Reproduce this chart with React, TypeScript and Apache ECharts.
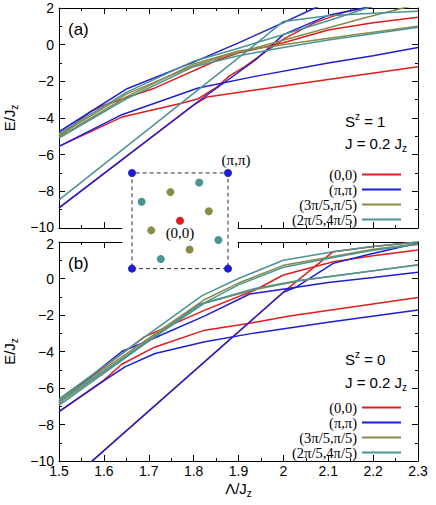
import { useEffect, useRef } from 'react';
import * as echarts from 'echarts';

// ---- axis ranges / ticks ----
const X_MIN = 1.5;
const X_MAX = 2.3;
const X_STEP = 0.1;
const Y_MIN = -10;
const Y_MAX = 2;
const Y_STEP = 2;

// ---- legend names (momenta) ----
const momenta = ['(0,0)', '(π,π)', '(3π/5,π/5)', '(2π/5,4π/5)'];

// ---- panel (a): S^z = 1 ----
const aRed1 = [[1.5, -5.0], [1.57, -3.65], [1.6, -3.3], [1.714, -2.36], [1.855, -0.82], [1.9, -0.45], [2.0, 0.1], [2.1, 0.8], [2.2, 1.2], [2.3, 1.5]];
const aRed2 = [[1.5, -5.55], [1.64, -3.95], [1.773, -3.2], [1.81, -2.95], [1.85, -2.35], [1.88, -1.7], [1.914, -1.2], [2.0, 0.3], [2.07, 1.2], [2.14, 1.8], [2.2, 2.1]];
const aRed3 = [[1.5, -8.9], [1.8, -3.3], [1.83, -2.85], [1.937, -2.47], [2.1, -1.9], [2.3, -1.2]];
const aBlue1 = [[1.5, -4.75], [1.65, -2.42], [1.8, -0.95], [1.9, 0.1], [2.0, 1.2], [2.07, 2.0], [2.1, 2.3]];
const aBlue2 = [[1.5, -5.55], [1.64, -3.82], [1.81, -2.36], [1.937, -1.73], [2.1, -1.0], [2.2, -0.6], [2.3, -0.15]];
const aBlue3 = [[1.5, -8.9], [1.81, -3.1], [1.937, -0.85], [2.0, 0.55], [2.1, 1.6], [2.2, 2.1]];
const aOlive1 = [[1.5, -4.95], [1.65, -2.7], [1.8, -1.15], [1.881, -0.55], [2.03, 0.45], [2.18, 1.45], [2.26, 1.96], [2.3, 2.2]];
const aOlive2 = [[1.5, -5.05], [1.65, -2.85], [1.8, -1.05], [1.9, -0.35], [2.0, 0.0], [2.1, 0.35], [2.2, 0.68], [2.3, 1.0]];
const aTeal1 = [[1.5, -8.47], [1.914, -0.45], [2.0, 1.27], [2.1, 1.58], [2.2, 1.72], [2.3, 1.82]];
const aTeal2 = [[1.5, -4.85], [1.65, -2.6], [1.8, -0.9], [1.9, -0.2], [2.0, 0.55], [2.1, 1.3], [2.18, 1.95], [2.2, 2.1]];
const aTeal3 = [[1.5, -5.1], [1.65, -2.95], [1.8, -1.2], [1.9, -0.6], [2.0, -0.15], [2.1, 0.25], [2.2, 0.6], [2.3, 0.95]];

// ---- panel (b): S^z = 0 ----
const bRed1 = [[1.5, -6.7], [1.69, -3.2], [1.825, -1.73], [1.937, -0.63], [2.0, 0.19], [2.111, 0.92], [2.2, 1.25], [2.3, 1.56]];
const bRed2 = [[1.5, -7.3], [1.6, -5.57], [1.64, -4.7], [1.714, -3.75], [1.825, -2.83], [1.922, -2.46], [2.014, -2.05], [2.3, -1.04]];
const bRed3 = [[1.56, -10.3], [2.0, -0.75], [2.111, 1.47], [2.2, 1.75], [2.3, 2.0]];
const bBlue1 = [[1.5, -6.75], [1.64, -4.0], [1.7, -3.4], [1.825, -2.05], [1.925, -0.85], [2.014, -0.54], [2.1, -0.22], [2.2, 0.05], [2.3, 0.34]];
const bBlue2 = [[1.5, -7.3], [1.602, -5.57], [1.647, -4.84], [1.714, -4.11], [1.825, -3.47], [1.937, -2.98], [2.1, -2.4], [2.3, -1.73]];
const bBlue3 = [[1.56, -10.3], [2.0, -0.75], [2.03, -0.45], [2.111, 0.83], [2.185, 1.29], [2.3, 1.95]];
const bOlive1 = [[1.5, -6.68], [1.825, -1.15], [1.9, -0.25], [2.0, 0.72], [2.111, 1.2], [2.2, 1.6], [2.3, 1.9]];
const bOlive2 = [[1.5, -6.85], [1.81, -1.45], [1.937, -0.6], [2.037, -0.12], [2.3, 0.76]];
const bTeal1 = [[1.5, -6.6], [1.818, -0.95], [1.9, 0.0], [2.0, 1.0], [2.111, 1.47], [2.2, 1.75], [2.3, 2.0]];
const bTeal2 = [[1.5, -6.75], [1.83, -1.25], [1.9, -0.35], [2.0, 0.62], [2.111, 1.15], [2.2, 1.55], [2.3, 1.86]];
const bTeal3 = [[1.5, -6.95], [1.815, -1.4], [1.937, -0.55], [2.037, -0.1], [2.3, 0.74]];

// ---- inset: Brillouin-zone momenta (units of π) ----
const insetSquare = [[-1, -1], [1, -1], [1, 1], [-1, 1], [-1, -1]];
const insetRed = [[0, 0]];
const insetBlue = [[-1, -1], [1, -1], [1, 1], [-1, 1]];
const insetOlive = [[-0.2, 0.6], [0.6, 0.2], [-0.6, -0.2], [0.2, -0.6]];
const insetTeal = [[0.4, 0.8], [-0.8, 0.4], [0.8, -0.4], [-0.4, -0.8]];

const COLORS = ['#e01e1e', '#1e1ed4', '#8a8a48', '#4a9494'];
const SANS = '"Liberation Sans", Arial, Helvetica, sans-serif';
const SERIF = '"Liberation Serif", "Times New Roman", serif';

const panels = [
  [[aRed1, aRed2, aRed3], [aBlue1, aBlue2, aBlue3], [aOlive1, aOlive2], [aTeal1, aTeal2, aTeal3]],
  [[bRed1, bRed2, bRed3], [bBlue1, bBlue2, bBlue3], [bOlive1, bOlive2], [bTeal1, bTeal2, bTeal3]],
];

const fmtX = (v: number) => String(Math.round(v * 10) / 10);
const minus = (v: number) => (v < 0 ? '\u2212' + Math.abs(v) : String(v));
// panel (a): lift the bottom label slightly; panel (b): drop the top label slightly
const fmtYa = (v: number) => (v === Y_MIN ? '{lo|' + minus(v) + '}' : minus(v));
const fmtYb = (v: number) => (v === Y_MAX ? '{hi|' + minus(v) + '}' : minus(v));
const labelRich = {
  lo: { fontFamily: SANS, fontSize: 14, color: '#000', padding: [0, 0, 3, 0] },
  hi: { fontFamily: SANS, fontSize: 14, color: '#000', padding: [3, 0, 0, 0] },
};

const richBase = {
  n: { fontFamily: SANS, fontSize: 15, lineHeight: 20, color: '#000' },
  sup: { fontFamily: SANS, fontSize: 10, lineHeight: 10, verticalAlign: 'top', color: '#000' },
  sub: { fontFamily: SANS, fontSize: 10, lineHeight: 10, verticalAlign: 'bottom', color: '#000' },
};

function xAxisFor(grid: number, position: string, showLabel: boolean, name?: string) {
  return {
    type: 'value',
    gridIndex: grid,
    position,
    min: X_MIN,
    max: X_MAX,
    interval: X_STEP,
    name: name || '',
    nameLocation: 'middle',
    nameGap: 17,
    nameTextStyle: { rich: richBase },
    axisLine: { show: true, onZero: false, lineStyle: { color: '#000', width: 1 } },
    axisTick: { show: true, inside: true, length: 6, lineStyle: { color: '#000', width: 1 } },
    minorTick: { show: true, splitNumber: 2, length: 3, lineStyle: { color: '#000', width: 1 } },
    axisLabel: {
      show: showLabel,
      margin: 3,
      formatter: fmtX,
      fontFamily: SANS,
      fontSize: 14,
      color: '#000',
      showMinLabel: true,
      showMaxLabel: true,
    },
    splitLine: { show: false },
    minorSplitLine: { show: false },
  };
}

function yAxisFor(grid: number, position: string, showLabel: boolean, formatter: any, name?: string) {
  return {
    type: 'value',
    gridIndex: grid,
    position,
    min: Y_MIN,
    max: Y_MAX,
    interval: Y_STEP,
    name: name || '',
    nameLocation: 'middle',
    nameGap: 36,
    nameTextStyle: { rich: richBase },
    axisLine: { show: true, onZero: false, lineStyle: { color: '#000', width: 1 } },
    axisTick: { show: true, inside: true, length: 6, lineStyle: { color: '#000', width: 1 } },
    minorTick: { show: true, splitNumber: 2, length: 3, lineStyle: { color: '#000', width: 1 } },
    axisLabel: {
      show: showLabel,
      margin: 5,
      formatter,
      fontFamily: SANS,
      fontSize: 14,
      color: '#000',
      rich: labelRich,
      showMinLabel: true,
      showMaxLabel: true,
    },
    splitLine: { show: false },
    minorSplitLine: { show: false },
  };
}

function legendAt(top: number) {
  return {
    data: momenta,
    orient: 'vertical',
    align: 'right',
    right: 34,
    top,
    padding: 0,
    itemGap: 0,
    itemWidth: 39,
    itemHeight: 14,
    selectedMode: false,
    itemStyle: { opacity: 0, borderWidth: 0 },
    textStyle: { fontFamily: SERIF, fontSize: 14.5, color: '#000' },
  };
}

function textEl(x: number, y: number, text: string, extra: any = {}) {
  return {
    type: 'text',
    x,
    y,
    z: 40,
    silent: true,
    style: {
      text,
      fill: '#000',
      verticalAlign: 'middle',
      font: '15px ' + SANS,
      rich: richBase,
      ...extra,
    },
  };
}

export default function App() {
  const ref = useRef<HTMLDivElement>(null);

  useEffect(() => {
    if (!ref.current) return;
    const chart = echarts.init(ref.current, undefined, { renderer: 'svg' });

    const series: any[] = [];
    panels.forEach((panel, p) => {
      panel.forEach((curves, k) => {
        curves.forEach((data) => {
          series.push({
            type: 'line',
            name: momenta[k],
            xAxisIndex: p * 2,
            yAxisIndex: p * 2,
            data,
            symbol: 'none',
            showSymbol: false,
            clip: true,
            silent: true,
            color: COLORS[k],
            itemStyle: { color: COLORS[k] },
            lineStyle: { color: COLORS[k], width: 1.5 },
            z: 2,
          });
        });
      });
    });

    series.push({
      type: 'line',
      name: 'inset-frame',
      xAxisIndex: 4,
      yAxisIndex: 4,
      data: insetSquare,
      symbol: 'none',
      silent: true,
      lineStyle: { color: '#333', width: 1, type: [4, 3] },
      z: 25,
    });
    const insetSets = [insetRed, insetBlue, insetOlive, insetTeal];
    insetSets.forEach((pts, k) => {
      series.push({
        type: 'scatter',
        name: 'inset-' + k,
        xAxisIndex: 4,
        yAxisIndex: 4,
        data: pts,
        symbol: 'circle',
        symbolSize: 8,
        silent: true,
        itemStyle: { color: COLORS[k], opacity: 1 },
        z: 26,
      });
    });

    const option: any = {
      animation: false,
      backgroundColor: '#fff',
      grid: [
        { left: 59, top: 8, width: 359, height: 220, containLabel: false, outerBoundsMode: 'none' },
        { left: 59, top: 242, width: 359, height: 219, containLabel: false, outerBoundsMode: 'none' },
        {
          left: 122.4,
          top: 163.4,
          width: 115.2,
          height: 114.8,
          show: true,
          backgroundColor: '#fff',
          borderWidth: 0,
          z: 20,
          containLabel: false,
          outerBoundsMode: 'none',
        },
      ],
      xAxis: [
        xAxisFor(0, 'bottom', false),
        xAxisFor(0, 'top', false),
        xAxisFor(1, 'bottom', true, '{n|Λ/J}{sub|z}'),
        xAxisFor(1, 'top', false),
        { type: 'value', gridIndex: 2, min: -1.2, max: 1.2, show: false },
      ],
      yAxis: [
        yAxisFor(0, 'left', true, fmtYa, '{n|E/J}{sub|z}'),
        yAxisFor(0, 'right', false, fmtYa),
        yAxisFor(1, 'left', true, fmtYb, '{n|E/J}{sub|z}'),
        yAxisFor(1, 'right', false, fmtYb),
        { type: 'value', gridIndex: 2, min: -1.2, max: 1.2, show: false },
      ],
      legend: [legendAt(167), legendAt(400)],
      series,
      graphic: [
        textEl(68, 29, '(a)', { font: '17px ' + SANS }),
        textEl(68, 263, '(b)', { font: '17px ' + SANS }),
        textEl(345, 121, '{n|S}{sup|z}{n| = 1}'),
        textEl(345, 143, '{n|J = 0.2 J}{sub|z}'),
        textEl(345, 359, '{n|S}{sup|z}{n| = 0}'),
        textEl(345, 382, '{n|J = 0.2 J}{sub|z}'),
        textEl(236, 160, '(π,π)', { font: '15px ' + SERIF, align: 'center' }),
        textEl(180, 233, '(0,0)', { font: '15px ' + SERIF, align: 'center' }),
      ],
    };

    chart.setOption(option);
    return () => chart.dispose();
  }, []);

  return (
    <div
      ref={ref}
      style={{ position: 'absolute', left: 0, top: 0, width: 436, height: 505 }}
    />
  );
}
